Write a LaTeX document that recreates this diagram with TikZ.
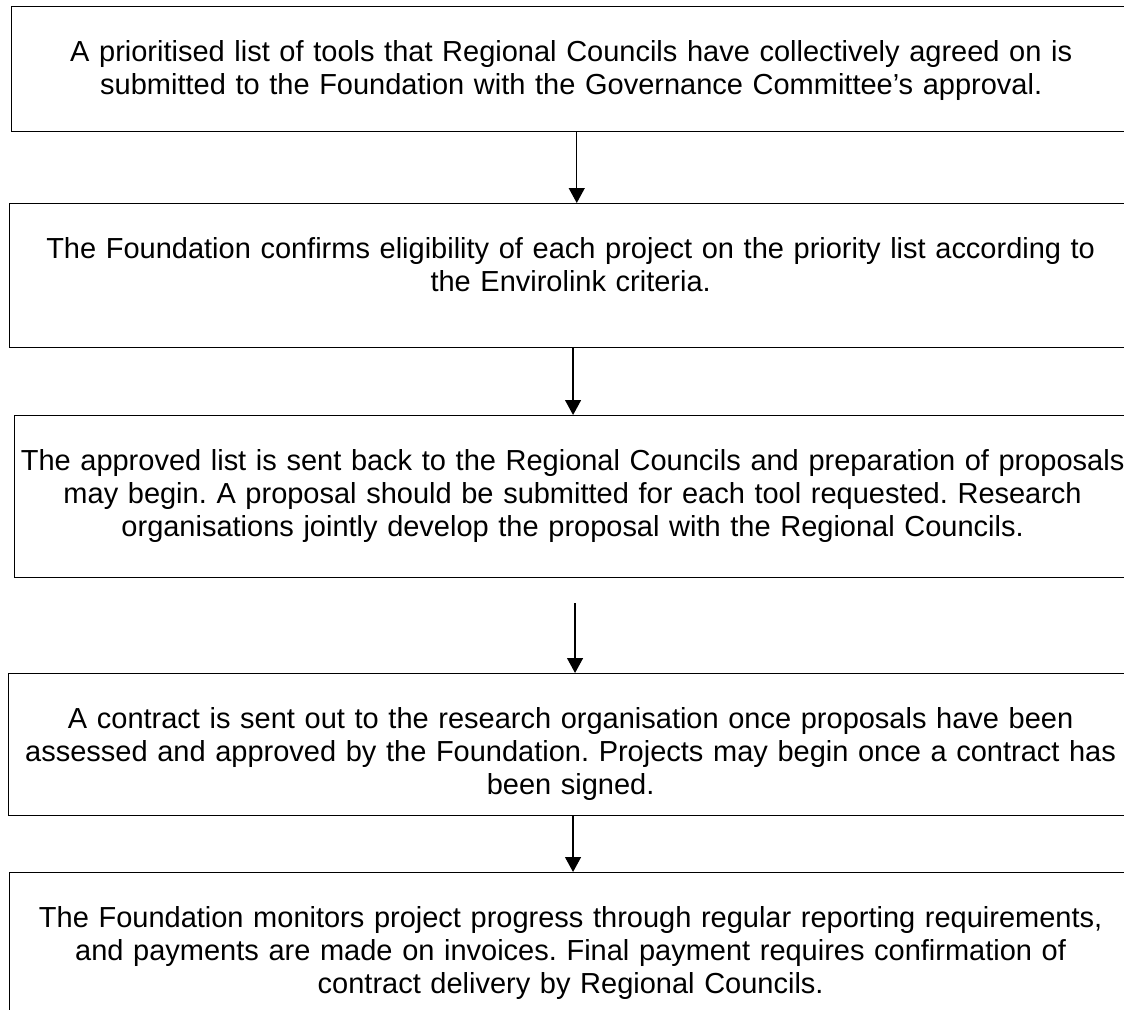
\documentclass[tikz,border=0pt]{standalone}
\usepackage{fontspec}
\setmainfont{Liberation Sans}
\frenchspacing
\usetikzlibrary{positioning,arrows.meta}

\begin{document}
\begin{tikzpicture}[x=0.414pt, y=-0.414pt,
  every node/.style={font=\fontsize{12pt}{13.8pt}\selectfont},
  box/.style={rectangle, draw, line width=0.55pt, anchor=north west,
              inner sep=0pt, align=center, text height=22.5pt},
  arr/.style={-{Triangle[length=6.2pt,width=6.6pt]}, line width=0.55pt}
]
  \useasboundingbox (0,0) rectangle (1124,1010);

  \node[box, text width=463.3pt, text depth=29.2pt] (list) at (11,6)
    {A prioritised list of tools that Regional Councils have collectively agreed on is\\
     submitted to the Foundation with the Governance Committee’s approval.};
  \node[box, text width=464.5pt, text depth=37.1pt] (check) at (9,203)
    {The Foundation confirms eligibility of each project on the priority list according to\\
     the Envirolink criteria.};
  \node[box, text width=462pt, text depth=44.5pt] (prop) at (14,415)
    {The approved list is sent back to the Regional Councils and preparation of proposals\\
     may begin. A proposal should be submitted for each tool requested. Research\\
     organisations jointly develop the proposal with the Regional Councils.};
  \node[box, text width=465.3pt, text depth=36.3pt] (contract) at (8,673)
    {A contract is sent out to the research organisation once proposals have been\\
     assessed and approved by the Foundation. Projects may begin once a contract has\\
     been signed.};
  \node[box, text width=464.5pt, text depth=50pt] (monitor) at (9,872)
    {The Foundation monitors project progress through regular reporting requirements,\\
     and payments are made on invoices. Final payment requires confirmation of\\
     contract delivery by Regional Councils.};

  \draw[arr] ([xshift=2.3pt]list.south) -- ([xshift=2.3pt]list.south |- check.north);
  \draw[arr] ([xshift=1pt]check.south) -- ([xshift=1pt]check.south |- prop.north);
  \draw[arr] ([xshift=1pt,yshift=-10.4pt]prop.south) -- ([xshift=1pt]prop.south |- contract.north);
  \draw[arr] ([xshift=1pt]contract.south) -- ([xshift=1pt]contract.south |- monitor.north);
\end{tikzpicture}
\end{document}
